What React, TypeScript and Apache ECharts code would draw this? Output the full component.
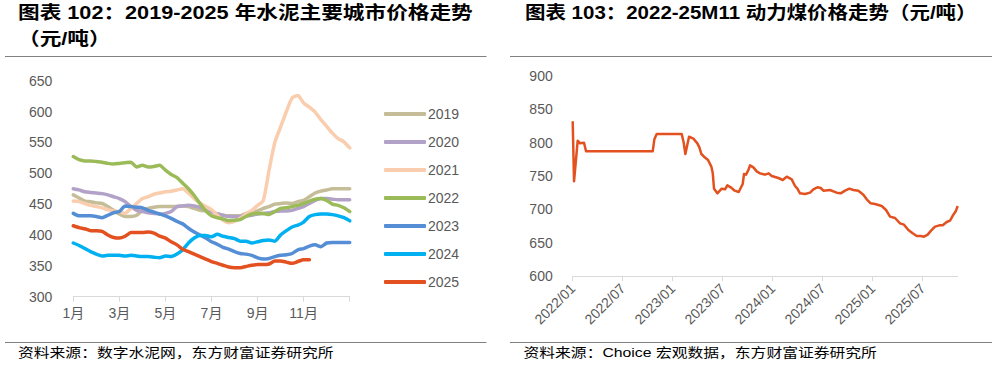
import React, { useEffect, useRef } from 'react';
import * as echarts from 'echarts';

// ---------- Left chart: cement prices (quarter-month steps, Jan..Dec) ----------
const monthTickLabels = ['1月', '3月', '5月', '7月', '9月', '11月', ''];
const seriesNames = ['2019', '2020', '2021', '2022', '2023', '2024', '2025'];
const seriesColors = ['#C4BD97', '#B3A2C7', '#F9CDAD', '#9BBB59', '#558ED5', '#00B0F0', '#E2511F'];

const y2019 = [465, 460, 455, 454, 452, 451, 446, 440, 434, 430, 430, 432, 440, 443, 445, 446, 446, 446, 446, 447, 446, 443, 440, 439, 438, 434, 432, 431, 431, 431, 435, 436, 439, 443, 446, 450, 451, 452, 451, 454, 456, 462, 468, 471, 473, 475, 475, 475, 475];
const y2020 = [475, 473, 470, 469, 468, 467, 465, 462, 459, 454, 446, 440, 438, 436, 435, 434, 435, 438, 446, 447, 448, 447, 445, 441, 438, 434, 432, 430, 430, 430, 431, 432, 434, 435, 436, 438, 439, 439, 440, 443, 446, 451, 456, 459, 459, 458, 457, 457, 457];
const y2021 = [455, 454, 451, 448, 446, 444, 441, 439, 438, 435, 443, 451, 459, 462, 466, 468, 470, 471, 473, 475, 468, 459, 452, 446, 441, 432, 424, 420, 422, 427, 434, 440, 448, 456, 505, 550, 575, 600, 622, 626, 614, 607, 599, 587, 576, 565, 556, 551, 541];
const y2022 = [527, 522, 520, 520, 519, 518, 516, 515, 516, 517, 518, 510, 513, 510, 511, 513, 505, 498, 493, 484, 475, 464, 451, 439, 431, 428, 426, 423, 424, 425, 430, 434, 435, 435, 433, 438, 443, 444, 446, 448, 451, 455, 458, 459, 456, 450, 448, 444, 438];
const y2023 = [435, 431, 431, 431, 430, 428, 432, 436, 438, 447, 446, 445, 444, 440, 437, 434, 431, 427, 422, 418, 411, 405, 400, 395, 389, 385, 380, 377, 373, 370, 369, 367, 363, 361, 362, 365, 367, 368, 370, 376, 378, 382, 384, 381, 387, 388, 388, 388, 388];
const y2024 = [387, 383, 378, 373, 369, 366, 367, 367, 367, 366, 367, 366, 365, 365, 364, 363, 366, 365, 369, 376, 387, 395, 399, 399, 397, 401, 398, 396, 394, 390, 390, 387, 389, 391, 392, 390, 400, 407, 413, 416, 421, 430, 433, 434, 434, 433, 431, 428, 423];
const y2025 = [415, 412, 410, 407, 407, 406, 400, 396, 395, 398, 404, 404, 404, 405, 403, 398, 395, 389, 384, 377, 373, 369, 365, 361, 357, 354, 351, 348, 347, 347, 349, 351, 352, 352, 353, 358, 358, 356, 354, 357, 360, 360];
const cementSeries = [y2019, y2020, y2021, y2022, y2023, y2024, y2025];

// ---------- Right chart: thermal coal price (months since 2022/01) ----------
const coalTickLabels = ['2022/01', '2022/07', '2023/01', '2023/07', '2024/01', '2024/07', '2025/01', '2025/07'];
const coalMonths = [0, 0.16, 0.6, 0.88, 1.36, 1.6, 9.6, 9.8, 10.08, 13.08, 13.32, 13.52, 13.96, 14.48, 14.96, 15.2, 15.44, 15.76, 16.24, 16.64, 16.8, 16.96, 17.36, 17.88, 18.28, 18.56, 18.96, 19.44, 19.92, 20.4, 20.56, 20.8, 21.08, 21.28, 21.68, 22.08, 22.48, 23.08, 23.52, 23.88, 24.68, 25.2, 25.68, 26.28, 26.68, 26.96, 27.28, 27.88, 28.48, 28.88, 29.36, 29.76, 30.08, 30.88, 31.28, 31.68, 32.16, 32.68, 33.2, 33.68, 34.28, 34.88, 35.28, 35.76, 36.28, 37.08, 37.6, 38.08, 38.68, 39.28, 39.76, 40.28, 40.8, 41.28, 41.76, 42.16, 42.6, 43.0, 43.48, 44.0, 44.4, 44.88, 45.28, 45.68, 45.96, 46.2];
const coalPrices = [832, 742, 803, 799, 800, 787, 787, 805, 813, 813, 800, 783, 809, 806, 799, 793, 783, 779, 774, 764, 755, 731, 724, 731, 730, 736, 733, 728, 726, 738, 753, 752, 759, 766, 763, 757, 754, 752, 754, 750, 747, 744, 749, 745, 735, 731, 724, 723, 725, 730, 733, 732, 728, 729, 727, 725, 724, 728, 731, 729, 728, 722, 715, 709, 708, 705, 699, 689, 687, 679, 677, 669, 664, 660, 660, 659, 662, 668, 674, 676, 676, 681, 683, 692, 697, 705];

// ---------- Texts ----------
const titleLeft1 = '图表 102：2019-2025 年水泥主要城市价格走势';
const titleLeft2 = '（元/吨）';
const titleRight = '图表 103：2022-25M11 动力煤价格走势（元/吨）';
const sourceLeft = '资料来源：数字水泥网，东方财富证券研究所';
const sourceRight = '资料来源：Choice 宏观数据，东方财富证券研究所';

const FONT = '"Liberation Sans", "Noto Sans CJK SC", sans-serif';

function measure(text: string, font: string): number {
  const ctx = document.createElement('canvas').getContext('2d');
  if (!ctx) return 1;
  ctx.font = font;
  return ctx.measureText(text).width || 1;
}

export default function App() {
  const ref = useRef<HTMLDivElement>(null);

  useEffect(() => {
    if (!ref.current) return;
    const chart = echarts.init(ref.current, undefined, { renderer: 'svg' });

    const titleFont = `bold 18px ${FONT}`;
    const footFont = `13px ${FONT}`;
    const sTitleL = 455 / measure(titleLeft1, titleFont);
    const sTitleR = 452 / measure(titleRight, titleFont);
    const sFoot = 316 / measure(sourceLeft, footFont);

    const textEl = (text: string, x: number, y: number, size: number, bold: boolean, sx: number) => ({
      type: 'text',
      x,
      y,
      scaleX: sx,
      silent: true,
      style: {
        text,
        fill: '#000',
        fontSize: size,
        fontWeight: bold ? 'bold' : 'normal',
        fontFamily: FONT,
        textAlign: 'left',
        textVerticalAlign: 'middle',
        verticalAlign: 'middle',
      },
    });
    const lineEl = (x1: number, x2: number, y: number) => ({
      type: 'line',
      silent: true,
      shape: { x1, y1: y, x2, y2: y },
      style: { stroke: '#808080', lineWidth: 1 },
    });

    const axisGray = '#D9D9D9';
    const labelGray = '#595959';

    const option: any = {
      animation: false,
      backgroundColor: '#ffffff',
      textStyle: { fontFamily: FONT },
      grid: [
        { left: 73.3, top: 80.7, width: 276.4, height: 216 },
        { left: 572.7, top: 76, width: 385, height: 200 },
      ],
      legend: {
        orient: 'vertical',
        left: 379,
        top: 101,
        itemWidth: 42,
        itemHeight: 4,
        itemGap: 12,
        icon: 'roundRect',
        data: seriesNames,
        textStyle: { color: labelGray, fontSize: 14, lineHeight: 16, padding: [0, 0, 0, -3], fontFamily: FONT },
      },
      xAxis: [
        {
          gridIndex: 0,
          type: 'value',
          min: 0,
          max: 12,
          interval: 2,
          axisLine: { show: true, lineStyle: { color: axisGray, width: 1 } },
          axisTick: { show: true, length: 5, lineStyle: { color: axisGray } },
          splitLine: { show: false },
          axisLabel: {
            color: labelGray,
            fontSize: 14,
            margin: 9,
            fontFamily: FONT,
            formatter: (v: number) => monthTickLabels[Math.round(v / 2)] ?? '',
          },
        },
        {
          gridIndex: 1,
          type: 'value',
          min: 0,
          max: coalMonths[coalMonths.length - 1],
          axisLine: { show: true, lineStyle: { color: axisGray, width: 1 } },
          axisTick: {
            show: true,
            length: 5,
            lineStyle: { color: axisGray },
            customValues: coalTickLabels.map((_, i) => i * 6),
          },
          splitLine: { show: false },
          axisLabel: {
            color: labelGray,
            fontSize: 14,
            margin: 10,
            rotate: 45,
            fontFamily: FONT,
            customValues: coalTickLabels.map((_, i) => i * 6),
            formatter: (v: number) => (Math.abs(v / 6 - Math.round(v / 6)) < 1e-6 ? coalTickLabels[Math.round(v / 6)] ?? '' : ''),
          },
        },
      ],
      yAxis: [
        {
          gridIndex: 0,
          type: 'value',
          min: 300,
          max: 650,
          interval: 50,
          axisLine: { show: false },
          axisTick: { show: false },
          splitLine: { show: false },
          axisLabel: { color: labelGray, fontSize: 14, margin: 21, fontFamily: FONT },
        },
        {
          gridIndex: 1,
          type: 'value',
          min: 600,
          max: 900,
          interval: 50,
          axisLine: { show: false },
          axisTick: { show: false },
          splitLine: { show: false },
          axisLabel: { color: labelGray, fontSize: 14, margin: 20, fontFamily: FONT },
        },
      ],
      series: [
        ...cementSeries.map((vals, si) => ({
          name: seriesNames[si],
          type: 'line',
          xAxisIndex: 0,
          yAxisIndex: 0,
          showSymbol: false,
          smooth: 0.2,
          color: seriesColors[si],
          lineStyle: { width: 3.5, color: seriesColors[si], cap: 'round', join: 'round' },
          data: vals.map((v, i) => [i / 4, v]),
          z: 2 + si,
        })),
        {
          name: '动力煤',
          type: 'line',
          xAxisIndex: 1,
          yAxisIndex: 1,
          showSymbol: false,
          color: '#E2511F',
          lineStyle: { width: 2.5, color: '#E2511F', join: 'round' },
          data: coalMonths.map((m, i) => [m, coalPrices[i]]),
        },
      ],
      graphic: [
        textEl(titleLeft1, 18, 13, 18, true, sTitleL),
        textEl(titleLeft2, 18, 38.5, 18, true, sTitleL),
        textEl(titleRight, 525, 13, 18, true, sTitleR),
        lineEl(5, 486.5, 56.5),
        lineEl(510, 992, 56.5),
        lineEl(5, 486.5, 342.5),
        lineEl(510, 992, 342.5),
        textEl(sourceLeft, 18, 353, 13, false, sFoot),
        textEl(sourceRight, 523.5, 353, 13, false, sFoot),
      ],
    };

    chart.setOption(option);
    return () => chart.dispose();
  }, []);

  return (
    <div
      ref={ref}
      style={{ position: 'absolute', left: 0, top: 0, width: 998, height: 366, background: '#fff' }}
    />
  );
}
